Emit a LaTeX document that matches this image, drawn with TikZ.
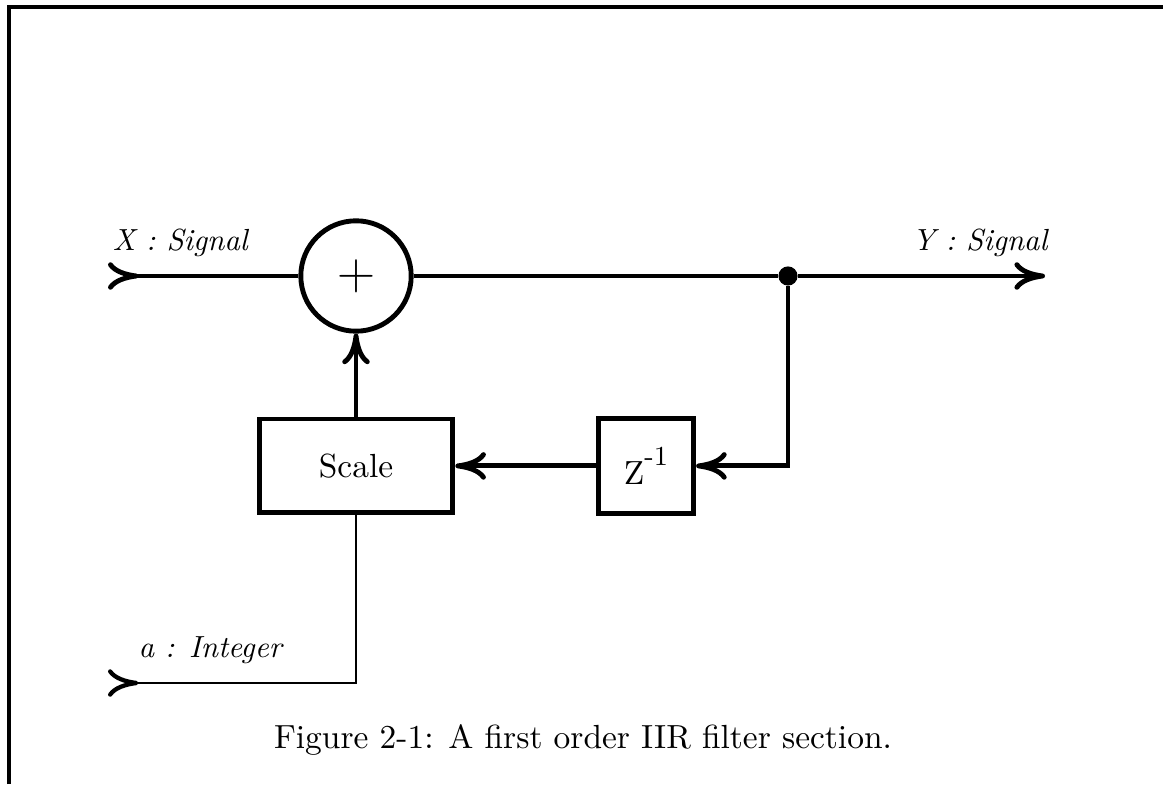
\documentclass[11pt,tikz,border=0pt]{standalone}
\usepackage{tikz}
\usetikzlibrary{arrows.meta, positioning, calc}
\tikzstyle{sumnode} = [circle, draw=black, line width=1.6pt, minimum size=1.27cm, inner sep=0pt]
\tikzstyle{block} = [rectangle, draw=black, line width=1.6pt, minimum width=2.23cm, minimum height=1.08cm, text centered]
\tikzstyle{delayblock} = [block, minimum width=1.1cm, minimum height=1.1cm]
\tikzstyle{tapdot} = [circle, fill=black, inner sep=0pt, minimum size=0.22cm]
\tikzstyle{arrow} = [line width=1.6pt, -{Computer Modern Rightarrow[length=10pt,width=9pt]}]
\tikzstyle{inarrow} = [line width=1.6pt, {Computer Modern Rightarrow[length=10pt,width=9pt,reversed]}-]
\tikzstyle{thininarrow} = [line width=0.8pt, {Computer Modern Rightarrow[length=10pt,width=9pt,reversed,line width=1.4pt]}-]
\tikzstyle{sig} = [font=\small\itshape, inner sep=0pt]

\begin{document}
\begin{tikzpicture}[x=0.0115cm, y=-0.0115cm]
        \useasboundingbox (0,0) rectangle (1163,784);
        % frame
        \draw[line width=1pt] (9,784) -- (9,7) -- (1163,7);

        \node (sum) [sumnode] at (356,276) {\LARGE $+$};
        \node (scale) [block, below of=sum, node distance=2.185cm] {Scale};
        \node (delay) [delayblock, right of=scale, node distance=3.335cm] {Z\raisebox{1.3ex}{\footnotesize -1}};
        \node (tap) [tapdot] at (788,276) {};
        \coordinate (xin) at (108,276);
        \coordinate (yout) at (1045,276);
        \coordinate (ain) at (108,683);

        \node (xlab) [sig, anchor=base west] at (112,250) {X : Signal};
        \node (ylab) [sig, anchor=base east] at (1048,250) {Y : Signal};
        \node (alab) [sig, anchor=base west] at (138,657) {a : Integer};
        \node (caption) at (583,740) {Figure 2-1: A first order IIR filter section.};

        \draw [inarrow] (xin) -- (sum);
        \draw [line width=1.6pt] (sum) -- (tap);
        \draw [arrow] (tap) -- (yout);
        \draw [arrow] (tap) |- (delay);
        \draw [arrow] (delay) -- (scale);
        \draw [arrow] (scale) -- (sum);
        \draw [thininarrow] (ain) -| (scale);
    \end{tikzpicture}
\end{document}
